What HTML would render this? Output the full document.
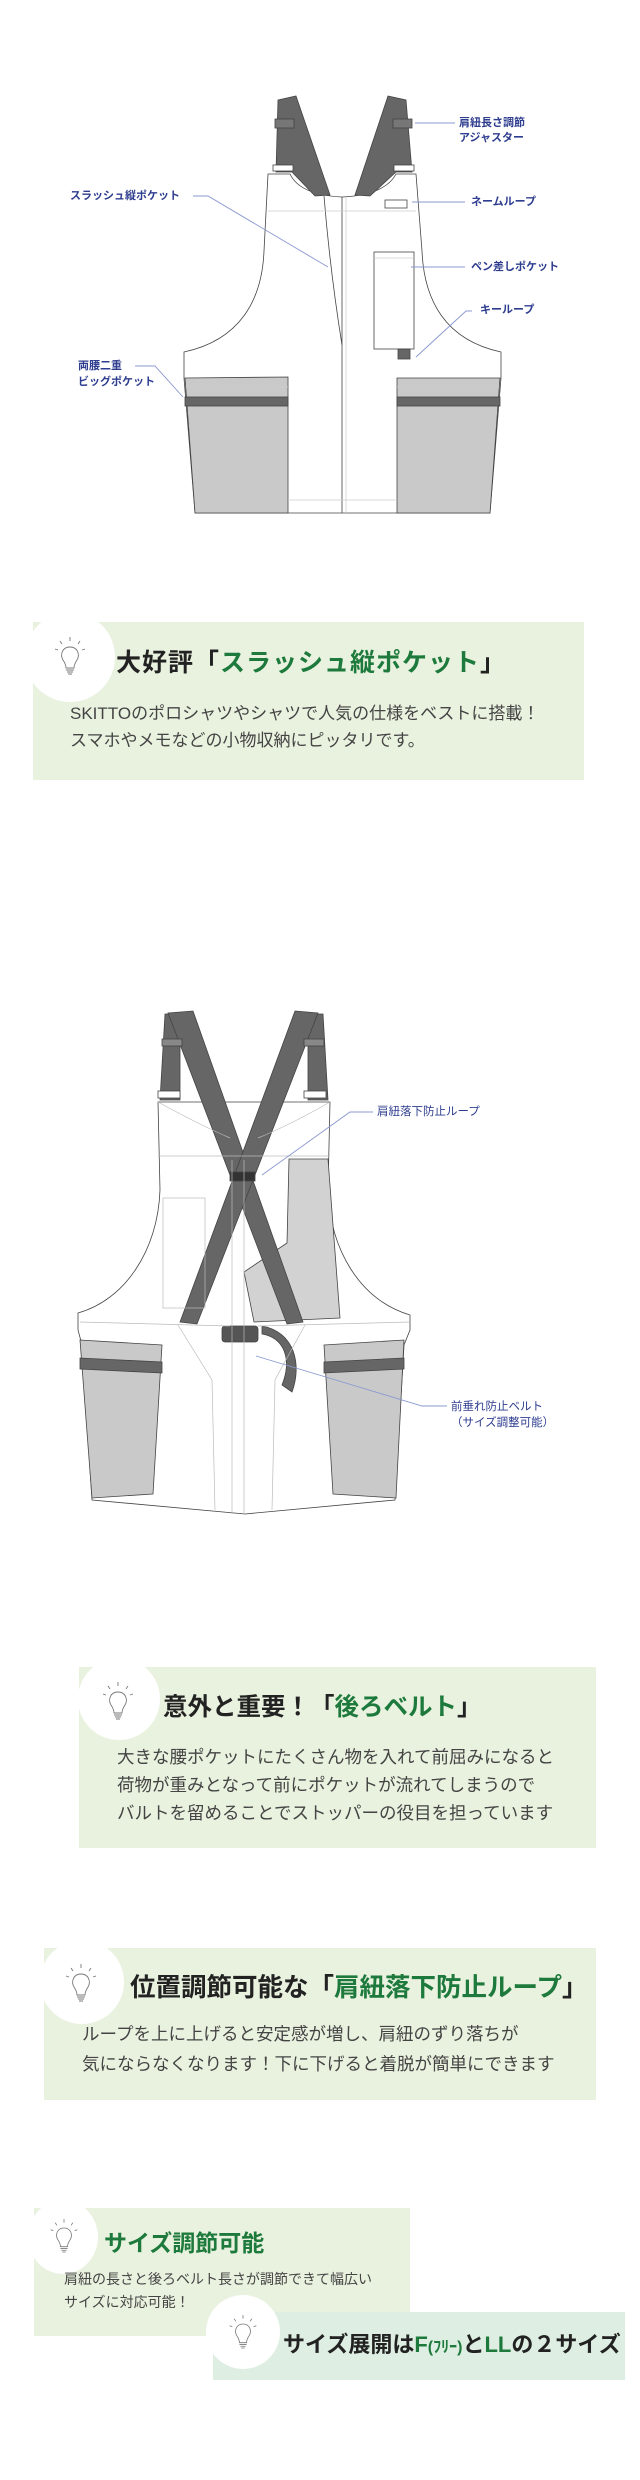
<!DOCTYPE html>
<html><head><meta charset="utf-8">
<style>
*{margin:0;padding:0;box-sizing:border-box}
body{width:640px;height:2480px;background:#fff;position:relative;overflow:hidden;font-family:"Liberation Sans","Noto Sans CJK JP",sans-serif;color:#333}
.abs{position:absolute;white-space:nowrap}
.box{position:absolute;background:#e9f2df}
.circ{position:absolute;background:#fff;border-radius:50%}
.lbl{position:absolute;white-space:nowrap;color:#2e3d8f;font-size:11px;font-weight:bold;line-height:15px}
.lbl2{position:absolute;white-space:nowrap;color:#2e3d8f;font-size:11.5px;line-height:16px}
.t{font-weight:bold;color:#222}
.g{color:#1e7a3c}
.b{color:#444}
</style></head><body>

<!-- VEST 1 -->
<svg class="abs" style="left:0;top:0" width="640" height="560" viewBox="0 0 640 560">
 <g stroke="#444" stroke-width="0.8">
  <!-- body -->
  <path d="M268,174 L290,174 Q300,195 342,197 Q385,195 396,174 L416,174 L422,251 C424,300 445,340 501,352 L501,378 L490,513 L195,513 L184,378 L184,352 C240,340 262,300 264,251 Z" fill="#fff"/>
  <!-- straps -->
  <path d="M278,100 L296,96 L330,195 L315,196 L292,172 L276,172 Z" fill="#666"/>
  <path d="M388,96 L406,100 L412,172 L396,172 L370,196 L355,195 Z" fill="#666"/>
  <rect x="275" y="119" width="19" height="9" fill="#777"/>
  <rect x="393" y="119" width="19" height="9" fill="#777"/>
  <rect x="273" y="165" width="20" height="6" fill="#fff"/>
  <rect x="394" y="165" width="20" height="6" fill="#fff"/>
  <!-- pockets -->
  <path d="M185,378 L288,377 L288,513 L195,513 Z" fill="#c9c9c9"/>
  <path d="M397,378 L500,378 L490,513 L397,513 Z" fill="#c9c9c9"/>
  <rect x="185" y="397" width="103" height="9" fill="#666"/>
  <rect x="397" y="397" width="103" height="9" fill="#666"/>
  <line x1="342" y1="197" x2="342" y2="513"/>
  <path d="M324,196 Q330,270 342,345" fill="none"/>
  <rect x="385" y="200" width="22" height="8" fill="#fff"/>
  <rect x="374" y="252" width="40" height="97" fill="#fff"/>
  <rect x="398" y="349" width="12" height="10" fill="#666"/>
 </g>
 <g stroke="#ccc" stroke-width="0.7" fill="none">
  <line x1="268" y1="211" x2="416" y2="211"/>
  <line x1="346" y1="197" x2="346" y2="513"/>
  <line x1="374" y1="258" x2="414" y2="258"/>
  <line x1="186" y1="387" x2="288" y2="387"/>
  <line x1="397" y1="387" x2="499" y2="387"/>
  <line x1="288" y1="500" x2="397" y2="500"/>
 </g>
 <g stroke="#8a98d0" stroke-width="0.9" fill="none">
  <line x1="415" y1="123" x2="455" y2="123"/>
  <polyline points="193,196 208,196 328,267"/>
  <line x1="412" y1="202" x2="465" y2="202"/>
  <line x1="411" y1="267" x2="465" y2="267"/>
  <polyline points="472,311 466,311 416,357"/>
  <polyline points="135,366 155,366 183,397"/>
 </g>
</svg>
<div class="lbl" style="left:459px;top:116px">肩紐長さ調節<br>アジャスター</div>
<div class="lbl" style="left:70px;top:189px">スラッシュ縦ポケット</div>
<div class="lbl" style="left:471px;top:195px">ネームループ</div>
<div class="lbl" style="left:471px;top:260px">ペン差しポケット</div>
<div class="lbl" style="left:480px;top:303px">キーループ</div>
<div class="lbl" style="left:78px;top:359px">両腰二重<br><span style="line-height:17px">ビッグポケット</span></div>

<!-- BOX 1 -->
<div class="box" style="left:33px;top:622px;width:551px;height:158px"></div>
<div class="circ" style="left:25px;top:612px;width:90px;height:90px"></div>
<svg class="abs" style="left:52px;top:635px" width="36" height="42" viewBox="0 0 36 42"><g stroke="#777" stroke-width="0.9" fill="none"><path d="M18,12 C10,12 8,20 11,25 C13,28 14,30 14,33 L22,33 C22,30 23,28 25,25 C28,20 26,12 18,12 Z"/><path d="M14,35 L22,35 M15,37 L21,37 M16,39 L20,39"/><path d="M18,2 L18,6 M8,6 L10,9 M28,6 L26,9 M3,14 L6,15 M33,14 L30,15"/></g></svg>
<div class="abs t" style="left:116px;top:647px;font-size:25px;line-height:32px;letter-spacing:1px">大好評「<span class="g">スラッシュ縦ポケット</span>」</div>
<div class="abs b" style="left:70px;top:700px;font-size:17px;line-height:27px">SKITTOのポロシャツやシャツで人気の仕様をベストに搭載！<br>スマホやメモなどの小物収納にピッタリです。</div>

<!-- VEST 2 -->
<svg class="abs" style="left:0;top:960px" width="640" height="570" viewBox="0 960 640 570">
 <g stroke="#444" stroke-width="0.8">
  <path d="M158,1102 L330,1102 L328,1190 C330,1250 360,1300 410,1315 L410,1330 L404,1345 L395,1500 L245,1514 L92,1500 L82,1345 L78,1330 L78,1313 C125,1300 158,1250 160,1190 Z" fill="#fff"/>
  <path d="M289,1159 L328,1159 L340,1318 L254,1322 L244,1272 L287,1243 Z" fill="#d2d2d2"/>
  <path d="M80,1340 L162,1345 L153,1494 L92,1498 Z" fill="#c9c9c9"/>
  <path d="M324,1345 L404,1340 L396,1498 L333,1494 Z" fill="#c9c9c9"/>
  <path d="M80,1358 L162,1362 L162,1373 L80,1369 Z" fill="#666"/>
  <path d="M324,1362 L404,1358 L404,1369 L324,1373 Z" fill="#666"/>
  <!-- straps -->
  <path d="M165,1014 L180,1014 L180,1100 L160,1100 Z" fill="#666"/>
  <path d="M308,1014 L323,1014 L328,1100 L308,1100 Z" fill="#666"/>
  <path d="M168,1013 L193,1011 L303,1322 L287,1324 Z" fill="#666"/>
  <path d="M295,1011 L318,1013 L197,1324 L180,1322 Z" fill="#666"/>
  <rect x="162" y="1039" width="20" height="7" fill="#888"/>
  <rect x="304" y="1039" width="20" height="7" fill="#888"/>
  <rect x="158" y="1091" width="22" height="7" fill="#fff"/>
  <rect x="304" y="1091" width="22" height="7" fill="#fff"/>
  <rect x="230" y="1172" width="25" height="9" fill="#333"/>
  <path d="M262,1334 C285,1338 292,1360 282,1385 L292,1392 C302,1365 295,1332 262,1326 Z" fill="#666"/>
  <rect x="222" y="1326" width="36" height="16" rx="3" fill="#555"/>
 </g>
 <g stroke="#bbb" stroke-width="0.7" fill="none">
  <line x1="158" y1="1156" x2="330" y2="1156"/>
  <line x1="232" y1="1160" x2="232" y2="1514"/>
  <line x1="244" y1="1160" x2="244" y2="1514"/>
  <rect x="163" y="1198" width="42" height="110"/>
  <path d="M158,1102 Q200,1125 230,1138 M330,1102 Q290,1125 258,1138"/>
  <path d="M80,1322 L230,1326 M258,1326 L410,1322"/>
  <path d="M178,1325 L212,1380 L215,1510 M305,1325 L275,1380 L272,1510"/>
 </g>
 <g stroke="#8a98d0" stroke-width="0.9" fill="none">
  <polyline points="373,1112 350,1112 262,1175"/>
  <polyline points="256,1356 422,1406 447,1406"/>
 </g>
</svg>
<div class="lbl2" style="left:377px;top:1104px">肩紐落下防止ループ</div>
<div class="lbl2" style="left:451px;top:1399px">前垂れ防止ベルト<br>（サイズ調整可能）</div>

<!-- BOX 3 -->
<div class="box" style="left:79px;top:1667px;width:517px;height:181px"></div>
<div class="circ" style="left:78px;top:1658px;width:82px;height:82px"></div>
<svg class="abs" style="left:100px;top:1680px" width="36" height="42" viewBox="0 0 36 42"><g stroke="#777" stroke-width="0.9" fill="none"><path d="M18,12 C10,12 8,20 11,25 C13,28 14,30 14,33 L22,33 C22,30 23,28 25,25 C28,20 26,12 18,12 Z"/><path d="M14,35 L22,35 M15,37 L21,37 M16,39 L20,39"/><path d="M18,2 L18,6 M8,6 L10,9 M28,6 L26,9 M3,14 L6,15 M33,14 L30,15"/></g></svg>
<div class="abs t" style="left:163px;top:1692px;font-size:24.5px;line-height:32px">意外と重要！「<span class="g">後ろベルト</span>」</div>
<div class="abs b" style="left:117px;top:1743px;font-size:17.5px;line-height:28px">大きな腰ポケットにたくさん物を入れて前屈みになると<br>荷物が重みとなって前にポケットが流れてしまうので<br>バルトを留めることでストッパーの役目を担っています</div>

<!-- BOX 4 -->
<div class="box" style="left:44px;top:1948px;width:552px;height:152px"></div>
<div class="circ" style="left:40px;top:1940px;width:84px;height:84px"></div>
<svg class="abs" style="left:63px;top:1962px" width="36" height="42" viewBox="0 0 36 42"><g stroke="#777" stroke-width="0.9" fill="none"><path d="M18,12 C10,12 8,20 11,25 C13,28 14,30 14,33 L22,33 C22,30 23,28 25,25 C28,20 26,12 18,12 Z"/><path d="M14,35 L22,35 M15,37 L21,37 M16,39 L20,39"/><path d="M18,2 L18,6 M8,6 L10,9 M28,6 L26,9 M3,14 L6,15 M33,14 L30,15"/></g></svg>
<div class="abs t" style="left:130px;top:1971px;font-size:25.5px;line-height:34px">位置調節可能な「<span class="g">肩紐落下防止ループ</span>」</div>
<div class="abs b" style="left:82px;top:2019px;font-size:17.5px;line-height:30px">ループを上に上げると安定感が増し、肩紐のずり落ちが<br>気にならなくなります！下に下げると着脱が簡単にできます</div>

<!-- BOX A -->
<div class="box" style="left:34px;top:2208px;width:376px;height:128px"></div>
<div class="circ" style="left:28px;top:2200px;width:70px;height:74px"></div>
<svg class="abs" style="left:48px;top:2217px" width="32" height="38" viewBox="0 0 36 42"><g stroke="#777" stroke-width="0.9" fill="none"><path d="M18,12 C10,12 8,20 11,25 C13,28 14,30 14,33 L22,33 C22,30 23,28 25,25 C28,20 26,12 18,12 Z"/><path d="M14,35 L22,35 M15,37 L21,37 M16,39 L20,39"/><path d="M18,2 L18,6 M8,6 L10,9 M28,6 L26,9 M3,14 L6,15 M33,14 L30,15"/></g></svg>
<div class="abs g" style="left:104px;top:2228px;font-size:23px;line-height:30px;font-weight:bold">サイズ調節可能</div>
<div class="abs b" style="left:64px;top:2268px;font-size:14px;line-height:23px">肩紐の長さと後ろベルト長さが調節できて幅広い<br>サイズに対応可能！</div>

<!-- BOX B -->
<div class="box" style="left:213px;top:2312px;width:412px;height:68px;background:#deeee2"></div>
<div class="circ" style="left:206px;top:2295px;width:74px;height:74px"></div>
<svg class="abs" style="left:227px;top:2313px" width="32" height="38" viewBox="0 0 36 42"><g stroke="#777" stroke-width="0.9" fill="none"><path d="M18,12 C10,12 8,20 11,25 C13,28 14,30 14,33 L22,33 C22,30 23,28 25,25 C28,20 26,12 18,12 Z"/><path d="M14,35 L22,35 M15,37 L21,37 M16,39 L20,39"/><path d="M18,2 L18,6 M8,6 L10,9 M28,6 L26,9 M3,14 L6,15 M33,14 L30,15"/></g></svg>
<div class="abs t" style="left:283px;top:2330px;font-size:22px;line-height:30px">サイズ展開は<span class="g">F<span style="font-size:16px">(ﾌﾘｰ)</span></span>と<span class="g">LL</span>の２サイズ</div>

</body></html>
